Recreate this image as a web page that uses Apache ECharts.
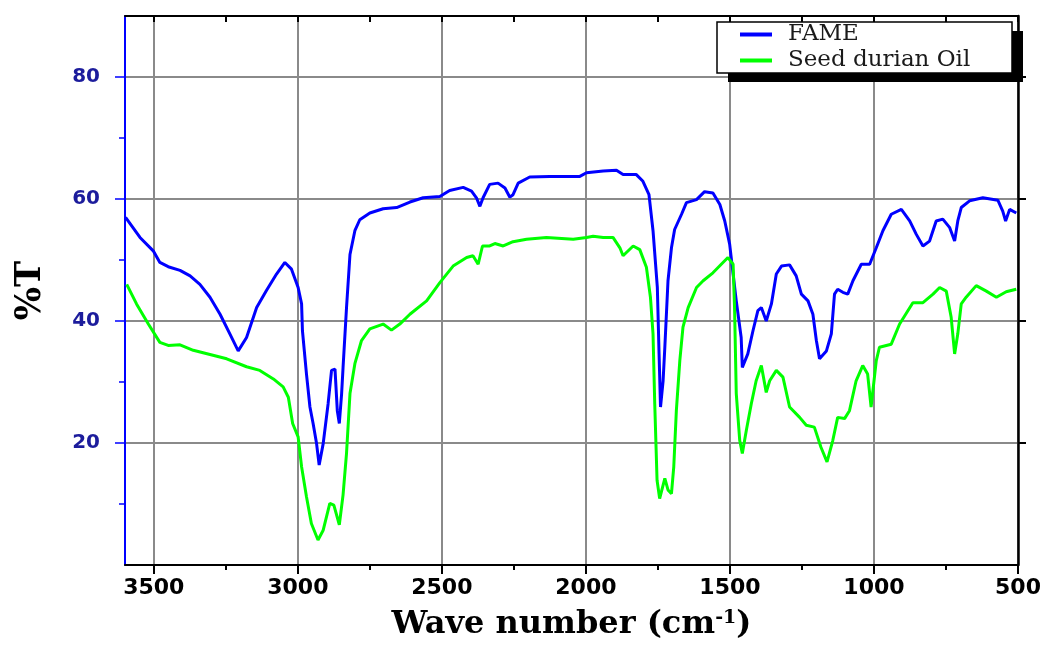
<!DOCTYPE html>
<html>
<head>
<meta charset="utf-8" />
<title>FTIR</title>
<script src="https://cdn.jsdelivr.net/npm/echarts@6/dist/echarts.min.js"></script>
<style>
  html, body { margin: 0; padding: 0; background: #fff; }
  #chart { width: 1047px; height: 646px; }
</style>
</head>
<body>
<div id="chart"></div>
<script>
// wave numbers (cm-1) and %T
var fameWn = [3598, 3548, 3502, 3479, 3450, 3409, 3374, 3340, 3305, 3270, 3236, 3207, 3178, 3143, 3109, 3074, 3045, 3022, 2999, 2987,
  2984, 2970, 2958, 2947, 2935, 2926, 2912, 2895, 2883, 2871, 2863, 2856, 2848, 2843, 2831, 2819, 2802, 2785, 2750, 2704,
  2657, 2611, 2565, 2507, 2473, 2426, 2397, 2380, 2368, 2357, 2334, 2305, 2281, 2264, 2253, 2235, 2195, 2126, 2021, 1998,
  1940, 1894, 1871, 1825, 1802, 1781, 1767, 1752, 1746, 1741, 1732, 1726, 1715, 1703, 1692, 1668, 1651, 1616, 1588, 1559,
  1535, 1518, 1501, 1489, 1478, 1461, 1457, 1438, 1420, 1403, 1391, 1374, 1356, 1339, 1321, 1293, 1270, 1252, 1229, 1212,
  1200, 1189, 1165, 1148, 1137, 1126, 1108, 1091, 1073, 1044, 1015, 992, 969, 940, 905, 876, 853, 830, 807, 784,
  761, 737, 720, 709, 697, 668, 622, 570, 553, 543, 529, 506];
var fameT = [57.0, 53.7, 51.5, 49.6, 48.9, 48.3, 47.4, 46.0, 43.9, 41.1, 37.9, 35.1, 37.3, 42.2, 45.0, 47.7, 49.6, 48.5, 45.5, 42.8,
  38.4, 31.3, 25.9, 23.2, 19.9, 16.4, 19.9, 26.4, 31.9, 32.1, 25.3, 23.2, 28.1, 32.4, 42.2, 50.9, 54.8, 56.6, 57.7, 58.4,
  58.6, 59.5, 60.2, 60.4, 61.4, 61.9, 61.3, 60.2, 58.8, 60.2, 62.4, 62.6, 61.8, 60.3, 60.7, 62.6, 63.6, 63.7, 63.7, 64.3,
  64.6, 64.7, 64.0, 64.0, 62.9, 60.7, 54.8, 45.5, 34.6, 25.9, 30.2, 35.7, 46.6, 52.0, 55.0, 57.5, 59.4, 59.9, 61.2, 61.0,
  59.1, 56.4, 52.6, 47.7, 43.3, 37.3, 32.4, 34.6, 38.4, 41.7, 42.2, 40.0, 42.8, 47.7, 49.0, 49.2, 47.4, 44.4, 43.3, 41.1,
  36.8, 33.8, 35.1, 37.9, 44.4, 45.2, 44.7, 44.4, 46.6, 49.3, 49.3, 52.0, 54.8, 57.5, 58.3, 56.4, 54.2, 52.3, 53.1, 56.4,
  56.7, 55.3, 53.1, 56.4, 58.6, 59.7, 60.2, 59.8, 58.0, 56.4, 58.3, 57.7];

var oilWn = [3594, 3560, 3519, 3479, 3450, 3409, 3363, 3305, 3247, 3178, 3132, 3085, 3051, 3033, 3018, 2999, 2987, 2970, 2953, 2930,
  2912, 2889, 2875, 2856, 2843, 2831, 2819, 2802, 2779, 2750, 2704, 2675, 2646, 2611, 2553, 2507, 2461, 2414, 2392, 2374,
  2359, 2334, 2316, 2287, 2253, 2206, 2137, 2044, 1998, 1975, 1940, 1906, 1882, 1871, 1836, 1813, 1790, 1776, 1767, 1761,
  1753, 1744, 1726, 1715, 1703, 1695, 1686, 1674, 1663, 1645, 1616, 1593, 1559, 1507, 1489, 1484, 1478, 1466, 1457, 1443,
  1426, 1409, 1391, 1374, 1362, 1339, 1316, 1293, 1258, 1235, 1207, 1184, 1163, 1143, 1126, 1102, 1085, 1062, 1039, 1022,
  1010, 992, 981, 940, 911, 865, 830, 795, 772, 749, 732, 720, 709, 697, 680, 645, 610, 575, 541, 506];
var oilT = [46.0, 42.8, 39.5, 36.5, 36.0, 36.1, 35.2, 34.5, 33.8, 32.5, 31.9, 30.5, 29.2, 27.5, 23.2, 21.0, 16.1, 11.2, 6.8, 4.1,
  5.7, 10.1, 9.8, 6.6, 11.5, 18.3, 28.1, 33.0, 36.8, 38.7, 39.5, 38.5, 39.5, 41.1, 43.3, 46.3, 49.0, 50.4, 50.7, 49.3,
  52.3, 52.3, 52.7, 52.3, 53.0, 53.4, 53.7, 53.4, 53.7, 53.9, 53.7, 53.7, 52.0, 50.7, 52.3, 51.7, 48.8, 43.9, 37.9, 26.4,
  13.9, 10.9, 14.2, 12.3, 11.7, 16.1, 25.3, 33.5, 39.0, 42.2, 45.5, 46.6, 47.9, 50.4, 49.3, 42.2, 28.1, 20.4, 18.3, 22.1,
  26.4, 30.2, 32.7, 28.3, 30.2, 31.9, 30.8, 25.9, 24.2, 22.9, 22.6, 19.3, 16.9, 20.4, 24.2, 24.0, 25.3, 30.2, 32.7, 31.3,
  25.9, 33.5, 35.7, 36.2, 39.5, 43.0, 43.0, 44.4, 45.5, 44.9, 40.6, 34.6, 37.9, 42.8, 43.9, 45.8, 44.9, 43.9, 44.8, 45.2];

var xTicks = [3500, 3000, 2500, 2000, 1500, 1000, 500];
var xMinorTicks = [3250, 2750, 2250, 1750, 1250, 750];
var yTicks = [20, 40, 60, 80];
var yMinorTicks = [10, 30, 50, 70];

function pairs(xs, ys) {
  return xs.map(function (x, i) { return [x, ys[i]]; });
}
function plain(v) { return String(v); }

var chart = echarts.init(document.getElementById('chart'), null, {renderer: 'canvas'});
var gridColor = '#8a8a8a';

chart.setOption({
  animation: false,
  backgroundColor: '#fff',
  grid: {left: 125, right: 29, top: 16, bottom: 79},
  // legend box with a hard black drop shadow
  graphic: [
    {type: 'rect', z: 10, silent: true, shape: {x: 728, y: 31, width: 295, height: 51}, style: {fill: '#000'}},
    {type: 'rect', z: 11, silent: true, shape: {x: 717, y: 22, width: 295, height: 51}, style: {fill: '#fff', stroke: '#000', lineWidth: 1.5}}
  ],
  legend: {
    left: 717, top: 22, orient: 'vertical', z: 20,
    data: [{name: 'FAME', icon: 'rect'}, {name: 'Seed durian Oil', icon: 'rect'}],
    itemWidth: 32, itemHeight: 4, itemGap: 3,
    padding: [1, 35, 1, 23],
    textStyle: {fontFamily: 'DejaVu Serif', fontSize: 23, color: '#1a1a1a', padding: [0, 0, 0, 11]}
  },
  xAxis: [
    {
      type: 'value', position: 'bottom', inverse: true, min: 500, max: 3600, interval: 500,
      axisLine: {show: true, onZero: false, lineStyle: {color: '#000', width: 2}},
      axisTick: {show: true, length: 9, customValues: xTicks, lineStyle: {color: '#000', width: 2}},
      axisLabel: {customValues: xTicks, formatter: plain, margin: 12, fontFamily: 'DejaVu Sans', fontWeight: 'bold', fontSize: 22, color: '#000'},
      splitLine: {show: true, lineStyle: {color: gridColor, width: 2}},
      name: '{t|Wave number (cm}{s|-1}{t|)}',
      nameLocation: 'middle', nameGap: 44,
      nameTextStyle: {
        rich: {
          t: {fontFamily: 'DejaVu Serif', fontWeight: 'bold', fontSize: 32, color: '#000'},
          s: {fontFamily: 'DejaVu Serif', fontWeight: 'bold', fontSize: 19, color: '#000', verticalAlign: 'top'}
        }
      }
    },
    {
      type: 'value', position: 'bottom', inverse: true, min: 500, max: 3600, interval: 250,
      axisLine: {show: false, onZero: false},
      axisTick: {show: true, length: 5, customValues: xMinorTicks, lineStyle: {color: '#000', width: 2}},
      axisLabel: {show: false},
      splitLine: {show: false}
    },
    {
      type: 'value', position: 'top', inverse: true, min: 500, max: 3600, interval: 250,
      axisLine: {show: true, onZero: false, lineStyle: {color: '#000', width: 2}},
      axisTick: {show: true, inside: true, length: 6, customValues: xTicks.concat(xMinorTicks), lineStyle: {color: '#000', width: 2}},
      axisLabel: {show: false},
      splitLine: {show: false}
    }
  ],
  yAxis: [
    {
      type: 'value', position: 'left', min: 0, max: 90, interval: 10,
      axisLine: {show: true, onZero: false, lineStyle: {color: '#0000ff', width: 2}},
      axisTick: {show: true, length: 10, customValues: yTicks, lineStyle: {color: '#0000ff', width: 1.5}},
      axisLabel: {customValues: yTicks, formatter: plain, margin: 25, fontFamily: 'DejaVu Sans', fontWeight: 'bold', fontSize: 20, color: '#1c1c9c'},
      splitLine: {show: true, lineStyle: {color: gridColor, width: 2}},
      name: '%T', nameLocation: 'middle', nameGap: 77,
      nameTextStyle: {fontFamily: 'DejaVu Serif', fontWeight: 'bold', fontSize: 35, color: '#000'}
    },
    {
      type: 'value', position: 'left', min: 0, max: 90, interval: 10,
      axisLine: {show: false, onZero: false},
      axisTick: {show: true, length: 6, customValues: yMinorTicks, lineStyle: {color: '#0000ff', width: 1.5}},
      axisLabel: {show: false},
      splitLine: {show: false}
    },
    {
      type: 'value', position: 'right', min: 0, max: 90, interval: 10,
      axisLine: {show: true, onZero: false, lineStyle: {color: '#000', width: 2.5}},
      axisTick: {show: true, length: 8, customValues: yTicks, lineStyle: {color: '#000', width: 2}},
      axisLabel: {show: false},
      splitLine: {show: false}
    }
  ],
  series: [
    {
      name: 'FAME', type: 'line', xAxisIndex: 0, yAxisIndex: 0,
      data: pairs(fameWn, fameT), showSymbol: false, symbol: 'none',
      color: '#0000ff', lineStyle: {color: '#0000ff', width: 3}
    },
    {
      name: 'Seed durian Oil', type: 'line', xAxisIndex: 0, yAxisIndex: 0,
      data: pairs(oilWn, oilT), showSymbol: false, symbol: 'none',
      color: '#00ff00', lineStyle: {color: '#00ff00', width: 3}
    }
  ]
});
</script>
</body>
</html>
